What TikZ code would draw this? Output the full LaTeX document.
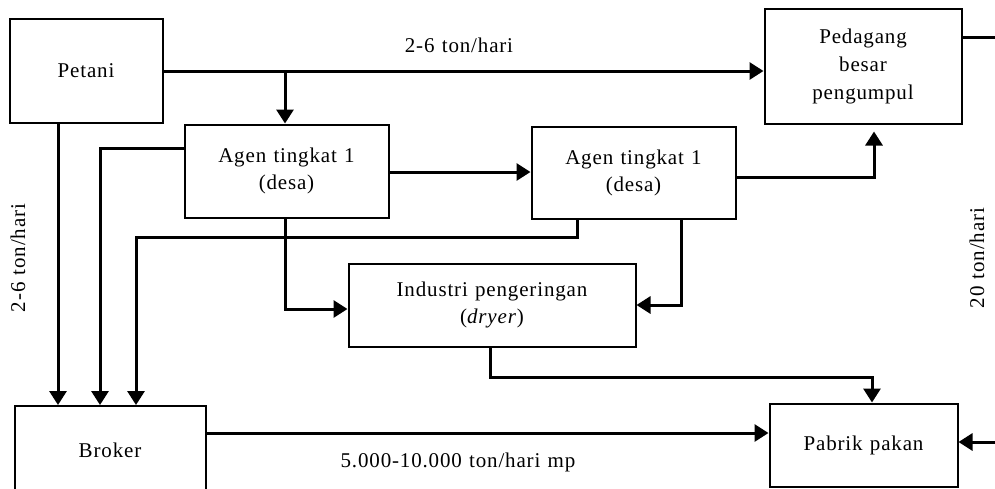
\documentclass[tikz,border=0pt]{standalone}
\usepackage{fontspec}
\setmainfont{Liberation Serif}[LetterSpace=4,WordSpace=1.2]
\usetikzlibrary{arrows.meta}
\begin{document}
\begin{tikzpicture}[x=1pt,y=-1pt,
  box/.style={draw,line width=2pt,rectangle,inner sep=0pt,align=center,font=\fontsize{21}{27}\selectfont},
  conn/.style={line width=3pt},
  arr/.style={conn,-{Triangle[width=17pt,length=14pt]}},
  lbl/.style={font=\fontsize{21}{24}\selectfont,inner sep=0pt}]
\useasboundingbox (0,0) rectangle (995,488);
% boxes
\node[box,minimum width=153pt,minimum height=104pt] (pet) at (86,70.5) {Petani};
\node[box,minimum width=197pt,minimum height=115pt,font=\fontsize{21}{28}\selectfont] (ped) at (863,66) {Pedagang\\besar\\pengumpul};
\node[box,minimum width=204pt,minimum height=93pt] (ag1) at (286.5,171) {Agen tingkat 1\\(desa)};
\node[box,minimum width=204pt,minimum height=92pt] (ag2) at (633.5,173) {Agen tingkat 1\\(desa)};
\node[box,minimum width=287pt,minimum height=83pt] (ind) at (492,305) {Industri pengeringan\\(\textit{dryer})};
\node[box,minimum width=191pt,minimum height=88pt] (bro) at (110,450) {Broker};
\node[box,minimum width=188pt,minimum height=83pt] (pab) at (863.5,445) {Pabrik pakan};
% helper coordinates
\coordinate (b1) at (285,71);
\coordinate (c58) at (58,0);
\coordinate (c100) at (100,148);
\coordinate (c136) at (136,237);
\coordinate (c577) at (577,237);
\coordinate (c309) at (285,309);
\coordinate (c681) at (681,305);
\coordinate (c874) at (874,177);
\coordinate (c490) at (490,377);
\coordinate (c872) at (872,377);
\coordinate (rtop) at (995,37);
\coordinate (rbot) at (995,442);
% connectors
\draw[arr] (pet.east |- b1) -- (ped.west |- b1);
\draw[arr] (b1) -- (b1 |- ag1.north);
\draw[arr] (pet.south -| c58) -- (bro.north -| c58);
\draw[arr] (ag1.west |- c100) -- (c100) -- (bro.north -| c100);
\draw[arr] (ag2.south -| c577) -- (c577) -- (c136) -- (bro.north -| c136);
\draw[arr] (ag1.south -| c309) -- (c309) -- (ind.west |- c309);
\draw[arr] (ag2.south -| c681) -- (c681) -- (ind.east |- c681);
\draw[arr] (ag1.east |- 0,172) -- (ag2.west |- 0,172);
\draw[arr,shorten >=7pt] (ag2.east |- c874) -- (c874) -- (c874 |- ped.south);
\draw[arr] (ind.south -| c490) -- (c490) -- (c872) -- (c872 |- pab.north);
\draw[arr] (bro.east |- 0,433) -- (pab.west |- 0,433);
\draw[conn] (ped.east |- rtop) -- (rtop);
\draw[arr] (rbot) -- (pab.east |- rbot);
% labels
\node[lbl] (l1) at (459,45) {2-6 ton/hari};
\node[lbl] (l2) at (458,462) {5.000-10.000 ton/hari mp};
\node[lbl,rotate=90] (l3) at (18,258) {2-6 ton/hari};
\node[lbl,rotate=90] (l4) at (977,258) {20 ton/hari};
\end{tikzpicture}
\end{document}
